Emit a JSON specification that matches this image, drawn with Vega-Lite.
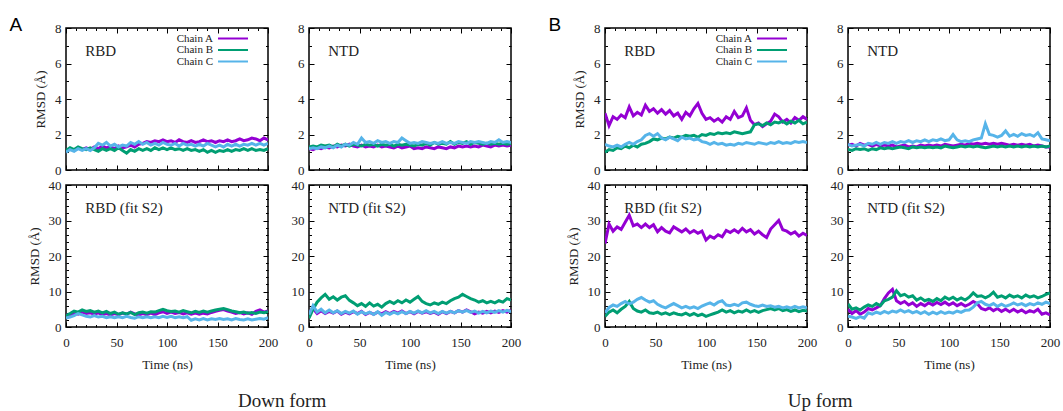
{
"$schema":"https://vega.github.io/schema/vega-lite/v6.json",
"background":"white",
"padding":{"left":8,"top":15,"right":3,"bottom":0},
"config":{
 "view":{"stroke":"#000","strokeWidth":1.5},
 "font":"Liberation Serif",
 "title":{"font":"Liberation Serif","fontWeight":"normal","color":"#222"},
 "axis":{"labelFont":"Liberation Serif","titleFont":"Liberation Serif","labelFontSize":13,"titleFontSize":13,"titleFontWeight":"normal"},
 "legend":{"labelFont":"Liberation Serif","labelFontSize":11},
 "style":{"guide-label":{"font":"Liberation Serif","fontSize":13},"guide-title":{"font":"Liberation Serif","fontSize":13,"fontWeight":"normal"}}
},
"datasets":{
"DR":[{"t":0,"A":1.05,"B":1.10,"C":1.00},{"t":4,"A":1.20,"B":1.25,"C":1.15},{"t":8,"A":1.10,"B":1.15,"C":1.05},{"t":12,"A":1.25,"B":1.30,"C":1.20},{"t":16,"A":1.15,"B":1.20,"C":1.10},{"t":20,"A":1.25,"B":1.15,"C":1.20},{"t":24,"A":1.15,"B":1.25,"C":1.10},{"t":28,"A":1.30,"B":1.15,"C":1.25},{"t":32,"A":1.20,"B":1.05,"C":1.50},{"t":36,"A":1.35,"B":1.20,"C":1.40},{"t":40,"A":1.25,"B":1.10,"C":1.55},{"t":44,"A":1.30,"B":1.20,"C":1.35},{"t":48,"A":1.20,"B":1.10,"C":1.45},{"t":52,"A":1.35,"B":1.25,"C":1.30},{"t":56,"A":1.25,"B":1.10,"C":1.40},{"t":60,"A":1.30,"B":0.95,"C":1.35},{"t":64,"A":1.40,"B":1.15,"C":1.55},{"t":68,"A":1.30,"B":1.05,"C":1.45},{"t":72,"A":1.45,"B":1.20,"C":1.60},{"t":76,"A":1.50,"B":1.10,"C":1.45},{"t":80,"A":1.60,"B":1.20,"C":1.55},{"t":84,"A":1.55,"B":1.10,"C":1.40},{"t":88,"A":1.65,"B":1.25,"C":1.50},{"t":92,"A":1.60,"B":1.15,"C":1.40},{"t":96,"A":1.70,"B":1.25,"C":1.55},{"t":100,"A":1.60,"B":1.15,"C":1.45},{"t":104,"A":1.65,"B":1.25,"C":1.40},{"t":108,"A":1.55,"B":1.15,"C":1.50},{"t":112,"A":1.70,"B":1.20,"C":1.35},{"t":116,"A":1.60,"B":1.10,"C":1.50},{"t":120,"A":1.55,"B":1.20,"C":1.40},{"t":124,"A":1.65,"B":1.10,"C":1.45},{"t":128,"A":1.55,"B":1.15,"C":1.35},{"t":132,"A":1.60,"B":1.05,"C":1.45},{"t":136,"A":1.70,"B":1.15,"C":1.35},{"t":140,"A":1.60,"B":1.00,"C":1.50},{"t":144,"A":1.65,"B":1.10,"C":1.40},{"t":148,"A":1.55,"B":1.00,"C":1.30},{"t":152,"A":1.65,"B":1.10,"C":1.40},{"t":156,"A":1.60,"B":1.05,"C":1.30},{"t":160,"A":1.70,"B":1.15,"C":1.45},{"t":164,"A":1.60,"B":1.05,"C":1.35},{"t":168,"A":1.65,"B":1.15,"C":1.45},{"t":172,"A":1.75,"B":1.10,"C":1.35},{"t":176,"A":1.65,"B":1.20,"C":1.45},{"t":180,"A":1.70,"B":1.10,"C":1.40},{"t":184,"A":1.80,"B":1.20,"C":1.50},{"t":188,"A":1.75,"B":1.10,"C":1.40},{"t":192,"A":1.65,"B":1.15,"C":1.50},{"t":196,"A":1.80,"B":1.10,"C":1.40},{"t":200,"A":1.70,"B":1.20,"C":1.50}],
"DN":[{"t":0,"A":1.20,"B":1.30,"C":1.20},{"t":4,"A":1.15,"B":1.35,"C":1.25},{"t":8,"A":1.25,"B":1.30,"C":1.20},{"t":12,"A":1.20,"B":1.40,"C":1.30},{"t":16,"A":1.30,"B":1.35,"C":1.25},{"t":20,"A":1.25,"B":1.40,"C":1.35},{"t":24,"A":1.35,"B":1.30,"C":1.25},{"t":28,"A":1.30,"B":1.45,"C":1.40},{"t":32,"A":1.40,"B":1.35,"C":1.30},{"t":36,"A":1.35,"B":1.45,"C":1.45},{"t":40,"A":1.45,"B":1.35,"C":1.40},{"t":44,"A":1.35,"B":1.45,"C":1.55},{"t":48,"A":1.30,"B":1.40,"C":1.45},{"t":52,"A":1.40,"B":1.35,"C":1.80},{"t":56,"A":1.30,"B":1.45,"C":1.55},{"t":60,"A":1.35,"B":1.40,"C":1.60},{"t":64,"A":1.30,"B":1.45,"C":1.50},{"t":68,"A":1.40,"B":1.35,"C":1.65},{"t":72,"A":1.30,"B":1.45,"C":1.55},{"t":76,"A":1.35,"B":1.40,"C":1.60},{"t":80,"A":1.30,"B":1.45,"C":1.50},{"t":84,"A":1.25,"B":1.35,"C":1.60},{"t":88,"A":1.35,"B":1.45,"C":1.55},{"t":92,"A":1.25,"B":1.40,"C":1.80},{"t":96,"A":1.30,"B":1.45,"C":1.65},{"t":100,"A":1.35,"B":1.40,"C":1.50},{"t":104,"A":1.20,"B":1.35,"C":1.55},{"t":108,"A":1.25,"B":1.45,"C":1.50},{"t":112,"A":1.20,"B":1.40,"C":1.60},{"t":116,"A":1.30,"B":1.50,"C":1.55},{"t":120,"A":1.25,"B":1.40,"C":1.50},{"t":124,"A":1.20,"B":1.55,"C":1.55},{"t":128,"A":1.30,"B":1.45,"C":1.50},{"t":132,"A":1.25,"B":1.50,"C":1.60},{"t":136,"A":1.20,"B":1.45,"C":1.50},{"t":140,"A":1.30,"B":1.60,"C":1.55},{"t":144,"A":1.25,"B":1.45,"C":1.50},{"t":148,"A":1.35,"B":1.55,"C":1.60},{"t":152,"A":1.30,"B":1.50,"C":1.55},{"t":156,"A":1.35,"B":1.60,"C":1.50},{"t":160,"A":1.30,"B":1.45,"C":1.60},{"t":164,"A":1.35,"B":1.55,"C":1.55},{"t":168,"A":1.30,"B":1.50,"C":1.60},{"t":172,"A":1.40,"B":1.45,"C":1.55},{"t":176,"A":1.35,"B":1.50,"C":1.50},{"t":180,"A":1.30,"B":1.45,"C":1.60},{"t":184,"A":1.40,"B":1.50,"C":1.55},{"t":188,"A":1.35,"B":1.45,"C":1.70},{"t":192,"A":1.40,"B":1.50,"C":1.55},{"t":196,"A":1.35,"B":1.45,"C":1.60},{"t":200,"A":1.40,"B":1.50,"C":1.55}],
"UR":[{"t":0,"A":3.20,"B":1.00,"C":1.45},{"t":4,"A":2.50,"B":1.15,"C":1.35},{"t":8,"A":3.00,"B":1.10,"C":1.30},{"t":12,"A":2.85,"B":1.25,"C":1.40},{"t":16,"A":3.10,"B":1.20,"C":1.30},{"t":20,"A":2.95,"B":1.35,"C":1.45},{"t":24,"A":3.55,"B":1.25,"C":1.55},{"t":28,"A":3.05,"B":1.40,"C":1.45},{"t":32,"A":3.25,"B":1.30,"C":1.60},{"t":36,"A":3.10,"B":1.45,"C":1.70},{"t":40,"A":3.65,"B":1.50,"C":1.95},{"t":44,"A":3.30,"B":1.60,"C":2.05},{"t":48,"A":3.45,"B":1.75,"C":1.90},{"t":52,"A":3.20,"B":1.70,"C":2.05},{"t":56,"A":3.40,"B":1.80,"C":1.80},{"t":60,"A":3.15,"B":1.75,"C":1.70},{"t":64,"A":3.35,"B":1.85,"C":1.85},{"t":68,"A":3.05,"B":1.80,"C":1.75},{"t":72,"A":3.20,"B":1.90,"C":1.65},{"t":76,"A":2.85,"B":1.85,"C":1.85},{"t":80,"A":3.25,"B":1.95,"C":1.75},{"t":84,"A":3.05,"B":1.90,"C":1.80},{"t":88,"A":3.45,"B":1.95,"C":1.70},{"t":92,"A":3.75,"B":1.85,"C":1.75},{"t":96,"A":3.20,"B":2.00,"C":1.60},{"t":100,"A":2.85,"B":1.95,"C":1.55},{"t":104,"A":2.95,"B":2.05,"C":1.45},{"t":108,"A":2.75,"B":2.00,"C":1.55},{"t":112,"A":2.90,"B":2.10,"C":1.45},{"t":116,"A":2.70,"B":2.05,"C":1.50},{"t":120,"A":3.00,"B":2.10,"C":1.40},{"t":124,"A":2.85,"B":2.05,"C":1.45},{"t":128,"A":3.30,"B":2.15,"C":1.40},{"t":132,"A":2.95,"B":2.10,"C":1.50},{"t":136,"A":3.05,"B":2.05,"C":1.45},{"t":140,"A":3.50,"B":2.10,"C":1.55},{"t":144,"A":2.80,"B":2.15,"C":1.50},{"t":148,"A":2.55,"B":2.55,"C":1.45},{"t":152,"A":2.65,"B":2.60,"C":1.55},{"t":156,"A":2.45,"B":2.50,"C":1.50},{"t":160,"A":2.60,"B":2.65,"C":1.45},{"t":164,"A":2.75,"B":2.55,"C":1.55},{"t":168,"A":3.15,"B":2.70,"C":1.50},{"t":172,"A":3.00,"B":2.65,"C":1.60},{"t":176,"A":2.70,"B":2.75,"C":1.50},{"t":180,"A":2.85,"B":2.60,"C":1.55},{"t":184,"A":2.65,"B":2.75,"C":1.50},{"t":188,"A":2.95,"B":2.65,"C":1.60},{"t":192,"A":2.80,"B":2.80,"C":1.55},{"t":196,"A":3.00,"B":2.60,"C":1.60},{"t":200,"A":2.85,"B":2.70,"C":1.55}],
"UN":[{"t":0,"A":1.40,"B":1.15,"C":1.45},{"t":4,"A":1.45,"B":1.10,"C":1.35},{"t":8,"A":1.35,"B":1.20,"C":1.40},{"t":12,"A":1.50,"B":1.15,"C":1.45},{"t":16,"A":1.40,"B":1.20,"C":1.35},{"t":20,"A":1.45,"B":1.10,"C":1.50},{"t":24,"A":1.35,"B":1.20,"C":1.45},{"t":28,"A":1.45,"B":1.15,"C":1.55},{"t":32,"A":1.35,"B":1.25,"C":1.45},{"t":36,"A":1.40,"B":1.20,"C":1.55},{"t":40,"A":1.35,"B":1.25,"C":1.50},{"t":44,"A":1.40,"B":1.20,"C":1.60},{"t":48,"A":1.30,"B":1.25,"C":1.50},{"t":52,"A":1.35,"B":1.30,"C":1.60},{"t":56,"A":1.40,"B":1.25,"C":1.55},{"t":60,"A":1.30,"B":1.20,"C":1.65},{"t":64,"A":1.35,"B":1.30,"C":1.55},{"t":68,"A":1.30,"B":1.25,"C":1.65},{"t":72,"A":1.40,"B":1.30,"C":1.60},{"t":76,"A":1.35,"B":1.25,"C":1.70},{"t":80,"A":1.40,"B":1.30,"C":1.60},{"t":84,"A":1.35,"B":1.25,"C":1.70},{"t":88,"A":1.40,"B":1.30,"C":1.65},{"t":92,"A":1.35,"B":1.25,"C":1.75},{"t":96,"A":1.45,"B":1.35,"C":1.65},{"t":100,"A":1.40,"B":1.30,"C":1.70},{"t":104,"A":1.35,"B":1.25,"C":2.00},{"t":108,"A":1.40,"B":1.30,"C":1.70},{"t":112,"A":1.45,"B":1.35,"C":1.60},{"t":116,"A":1.40,"B":1.30,"C":1.65},{"t":120,"A":1.50,"B":1.35,"C":1.60},{"t":124,"A":1.45,"B":1.30,"C":1.70},{"t":128,"A":1.50,"B":1.35,"C":1.75},{"t":132,"A":1.45,"B":1.30,"C":1.80},{"t":136,"A":1.50,"B":1.25,"C":2.60},{"t":140,"A":1.45,"B":1.30,"C":2.00},{"t":144,"A":1.50,"B":1.35,"C":1.95},{"t":148,"A":1.45,"B":1.30,"C":1.85},{"t":152,"A":1.50,"B":1.35,"C":1.95},{"t":156,"A":1.45,"B":1.30,"C":2.20},{"t":160,"A":1.40,"B":1.35,"C":1.90},{"t":164,"A":1.45,"B":1.30,"C":2.00},{"t":168,"A":1.40,"B":1.35,"C":1.90},{"t":172,"A":1.45,"B":1.30,"C":2.05},{"t":176,"A":1.40,"B":1.35,"C":1.95},{"t":180,"A":1.45,"B":1.30,"C":2.00},{"t":184,"A":1.35,"B":1.35,"C":1.90},{"t":188,"A":1.40,"B":1.30,"C":2.10},{"t":192,"A":1.35,"B":1.35,"C":1.75},{"t":196,"A":1.30,"B":1.30,"C":1.70},{"t":200,"A":1.30,"B":1.35,"C":1.65}],
"DRF":[{"t":0,"A":3.5,"B":3.2,"C":2.5},{"t":4,"A":3.0,"B":3.8,"C":2.8},{"t":8,"A":4.0,"B":4.5,"C":3.2},{"t":12,"A":3.6,"B":4.2,"C":3.8},{"t":16,"A":4.2,"B":4.8,"C":3.4},{"t":20,"A":3.8,"B":4.4,"C":3.0},{"t":24,"A":4.0,"B":4.6,"C":2.8},{"t":28,"A":3.6,"B":4.2,"C":3.2},{"t":32,"A":4.0,"B":4.5,"C":2.8},{"t":36,"A":3.5,"B":4.0,"C":3.0},{"t":40,"A":3.8,"B":4.4,"C":2.6},{"t":44,"A":3.4,"B":3.8,"C":2.9},{"t":48,"A":3.8,"B":4.2,"C":2.6},{"t":52,"A":3.5,"B":3.6,"C":2.9},{"t":56,"A":3.9,"B":4.0,"C":2.6},{"t":60,"A":3.6,"B":3.7,"C":3.0},{"t":64,"A":4.2,"B":4.1,"C":2.7},{"t":68,"A":3.7,"B":3.5,"C":2.5},{"t":72,"A":3.4,"B":4.0,"C":2.9},{"t":76,"A":3.8,"B":4.2,"C":2.6},{"t":80,"A":3.5,"B":3.9,"C":2.9},{"t":84,"A":3.9,"B":4.3,"C":2.6},{"t":88,"A":3.5,"B":4.2,"C":2.9},{"t":92,"A":4.0,"B":4.6,"C":2.6},{"t":96,"A":4.3,"B":5.0,"C":3.0},{"t":100,"A":3.8,"B":4.6,"C":2.7},{"t":104,"A":4.2,"B":4.4,"C":3.0},{"t":108,"A":3.8,"B":4.5,"C":2.6},{"t":112,"A":4.1,"B":4.2,"C":2.9},{"t":116,"A":3.7,"B":4.6,"C":2.6},{"t":120,"A":4.0,"B":4.3,"C":2.9},{"t":124,"A":3.6,"B":4.0,"C":1.9},{"t":128,"A":3.9,"B":4.4,"C":2.3},{"t":132,"A":3.6,"B":4.1,"C":2.0},{"t":136,"A":3.9,"B":4.5,"C":2.4},{"t":140,"A":3.7,"B":4.2,"C":2.0},{"t":144,"A":4.1,"B":4.5,"C":2.3},{"t":148,"A":4.4,"B":4.8,"C":2.1},{"t":152,"A":4.7,"B":5.0,"C":2.4},{"t":156,"A":4.9,"B":5.2,"C":2.1},{"t":160,"A":4.5,"B":4.9,"C":2.3},{"t":164,"A":4.2,"B":4.5,"C":2.0},{"t":168,"A":3.8,"B":4.3,"C":2.4},{"t":172,"A":4.1,"B":4.0,"C":2.1},{"t":176,"A":3.7,"B":4.2,"C":2.0},{"t":180,"A":4.0,"B":3.9,"C":2.3},{"t":184,"A":3.6,"B":4.1,"C":2.0},{"t":188,"A":4.4,"B":3.8,"C":2.2},{"t":192,"A":4.8,"B":4.2,"C":2.4},{"t":196,"A":4.2,"B":4.0,"C":2.2},{"t":200,"A":4.5,"B":4.3,"C":2.6}],
"DNF":[{"t":0,"A":4.0,"B":2.5,"C":3.5},{"t":4,"A":5.2,"B":5.0,"C":6.0},{"t":8,"A":3.8,"B":7.0,"C":4.2},{"t":12,"A":4.6,"B":8.2,"C":5.0},{"t":16,"A":3.8,"B":9.2,"C":4.0},{"t":20,"A":4.4,"B":7.8,"C":4.8},{"t":24,"A":3.9,"B":8.5,"C":4.0},{"t":28,"A":4.5,"B":7.6,"C":4.6},{"t":32,"A":3.6,"B":8.4,"C":3.8},{"t":36,"A":4.2,"B":8.8,"C":4.4},{"t":40,"A":3.7,"B":7.5,"C":3.9},{"t":44,"A":4.3,"B":6.8,"C":4.5},{"t":48,"A":3.8,"B":6.0,"C":3.6},{"t":52,"A":4.4,"B":6.6,"C":4.3},{"t":56,"A":3.5,"B":5.8,"C":3.7},{"t":60,"A":4.1,"B":6.8,"C":4.2},{"t":64,"A":3.6,"B":5.9,"C":3.5},{"t":68,"A":4.2,"B":6.4,"C":4.3},{"t":72,"A":3.7,"B":5.6,"C":3.3},{"t":76,"A":4.3,"B":6.6,"C":4.1},{"t":80,"A":3.8,"B":7.2,"C":3.6},{"t":84,"A":4.4,"B":6.6,"C":4.2},{"t":88,"A":3.9,"B":7.4,"C":3.7},{"t":92,"A":4.5,"B":6.8,"C":4.3},{"t":96,"A":3.8,"B":7.6,"C":3.8},{"t":100,"A":4.3,"B":7.0,"C":4.4},{"t":104,"A":3.7,"B":7.8,"C":3.9},{"t":108,"A":4.4,"B":8.6,"C":4.5},{"t":112,"A":3.9,"B":7.2,"C":4.0},{"t":116,"A":4.3,"B":6.6,"C":4.6},{"t":120,"A":3.8,"B":6.2,"C":4.0},{"t":124,"A":4.2,"B":6.8,"C":4.4},{"t":128,"A":3.6,"B":6.4,"C":3.8},{"t":132,"A":4.3,"B":7.0,"C":4.4},{"t":136,"A":3.8,"B":6.6,"C":3.9},{"t":140,"A":4.4,"B":7.4,"C":4.4},{"t":144,"A":4.0,"B":8.0,"C":4.0},{"t":148,"A":4.6,"B":8.4,"C":4.6},{"t":152,"A":4.2,"B":9.2,"C":4.2},{"t":156,"A":4.8,"B":8.6,"C":4.7},{"t":160,"A":4.3,"B":8.0,"C":4.1},{"t":164,"A":3.7,"B":7.6,"C":4.5},{"t":168,"A":4.2,"B":7.0,"C":3.9},{"t":172,"A":3.9,"B":7.4,"C":4.4},{"t":176,"A":4.4,"B":6.8,"C":4.0},{"t":180,"A":4.0,"B":7.2,"C":4.5},{"t":184,"A":4.5,"B":6.8,"C":4.1},{"t":188,"A":4.1,"B":7.4,"C":4.6},{"t":192,"A":4.6,"B":7.0,"C":4.2},{"t":196,"A":4.2,"B":8.0,"C":4.7},{"t":200,"A":4.7,"B":7.6,"C":4.3}],
"URF":[{"t":0,"A":23.5,"B":3.0,"C":4.0},{"t":4,"A":29.0,"B":4.2,"C":5.5},{"t":8,"A":27.0,"B":4.8,"C":6.2},{"t":12,"A":28.2,"B":4.0,"C":5.8},{"t":16,"A":27.5,"B":5.0,"C":6.6},{"t":20,"A":29.5,"B":5.8,"C":7.2},{"t":24,"A":31.5,"B":7.2,"C":6.5},{"t":28,"A":28.5,"B":5.2,"C":7.0},{"t":32,"A":29.0,"B":4.5,"C":7.8},{"t":36,"A":28.0,"B":4.2,"C":8.3},{"t":40,"A":29.0,"B":4.8,"C":7.6},{"t":44,"A":28.0,"B":4.0,"C":7.0},{"t":48,"A":28.8,"B":3.8,"C":7.4},{"t":52,"A":26.8,"B":4.2,"C":6.4},{"t":56,"A":28.0,"B":3.6,"C":5.8},{"t":60,"A":27.0,"B":4.0,"C":5.4},{"t":64,"A":26.5,"B":3.5,"C":6.0},{"t":68,"A":28.2,"B":4.0,"C":6.6},{"t":72,"A":27.5,"B":3.6,"C":6.0},{"t":76,"A":26.8,"B":3.4,"C":5.4},{"t":80,"A":27.6,"B":3.9,"C":5.8},{"t":84,"A":26.5,"B":3.3,"C":5.3},{"t":88,"A":27.2,"B":3.8,"C":5.7},{"t":92,"A":26.4,"B":3.2,"C":5.2},{"t":96,"A":27.0,"B":3.6,"C":5.9},{"t":100,"A":24.5,"B":3.0,"C":6.4},{"t":104,"A":25.6,"B":3.4,"C":6.8},{"t":108,"A":25.0,"B":3.8,"C":6.2},{"t":112,"A":26.0,"B":4.2,"C":7.0},{"t":116,"A":25.4,"B":4.8,"C":7.4},{"t":120,"A":27.2,"B":4.2,"C":6.2},{"t":124,"A":26.6,"B":4.6,"C":6.0},{"t":128,"A":27.4,"B":4.0,"C":6.4},{"t":132,"A":26.6,"B":4.5,"C":6.0},{"t":136,"A":27.8,"B":4.2,"C":6.8},{"t":140,"A":26.8,"B":4.8,"C":7.0},{"t":144,"A":27.4,"B":4.2,"C":6.4},{"t":148,"A":26.2,"B":4.6,"C":6.0},{"t":152,"A":27.0,"B":4.1,"C":5.8},{"t":156,"A":26.0,"B":4.6,"C":6.2},{"t":160,"A":25.2,"B":4.9,"C":5.8},{"t":164,"A":27.6,"B":5.2,"C":6.0},{"t":168,"A":28.8,"B":4.8,"C":5.6},{"t":172,"A":30.0,"B":5.2,"C":5.8},{"t":176,"A":27.4,"B":4.6,"C":5.4},{"t":180,"A":27.0,"B":4.9,"C":5.7},{"t":184,"A":26.2,"B":4.4,"C":5.3},{"t":188,"A":26.8,"B":4.8,"C":5.8},{"t":192,"A":25.6,"B":4.3,"C":5.4},{"t":196,"A":26.4,"B":4.7,"C":5.7},{"t":200,"A":25.8,"B":4.5,"C":5.4}],
"UNF":[{"t":0,"A":5.0,"B":6.5,"C":3.0},{"t":4,"A":3.8,"B":5.0,"C":2.8},{"t":8,"A":4.6,"B":5.4,"C":2.4},{"t":12,"A":3.6,"B":4.8,"C":2.9},{"t":16,"A":4.2,"B":5.6,"C":2.5},{"t":20,"A":5.2,"B":6.2,"C":4.0},{"t":24,"A":4.8,"B":5.8,"C":3.6},{"t":28,"A":5.4,"B":6.6,"C":4.2},{"t":32,"A":6.0,"B":6.0,"C":3.8},{"t":36,"A":8.0,"B":7.4,"C":4.4},{"t":40,"A":9.6,"B":7.8,"C":3.9},{"t":44,"A":10.6,"B":8.4,"C":4.5},{"t":48,"A":7.4,"B":10.2,"C":4.2},{"t":52,"A":6.6,"B":8.8,"C":4.8},{"t":56,"A":7.2,"B":9.2,"C":4.2},{"t":60,"A":6.2,"B":8.4,"C":4.6},{"t":64,"A":6.8,"B":8.8,"C":4.0},{"t":68,"A":5.8,"B":7.6,"C":4.4},{"t":72,"A":6.6,"B":8.2,"C":3.8},{"t":76,"A":6.0,"B":7.4,"C":4.3},{"t":80,"A":6.8,"B":7.8,"C":3.6},{"t":84,"A":6.2,"B":7.2,"C":4.2},{"t":88,"A":6.9,"B":8.0,"C":3.7},{"t":92,"A":6.3,"B":7.4,"C":4.3},{"t":96,"A":7.0,"B":8.4,"C":3.8},{"t":100,"A":6.2,"B":7.8,"C":4.2},{"t":104,"A":6.8,"B":8.4,"C":3.9},{"t":108,"A":6.0,"B":7.6,"C":4.5},{"t":112,"A":6.6,"B":8.2,"C":4.1},{"t":116,"A":5.9,"B":7.6,"C":4.7},{"t":120,"A":6.4,"B":8.4,"C":4.8},{"t":124,"A":7.2,"B":9.6,"C":5.6},{"t":128,"A":6.6,"B":8.6,"C":6.8},{"t":132,"A":5.2,"B":8.8,"C":7.2},{"t":136,"A":4.8,"B":8.2,"C":6.4},{"t":140,"A":5.4,"B":8.8,"C":6.0},{"t":144,"A":4.6,"B":9.8,"C":6.6},{"t":148,"A":5.2,"B":8.4,"C":5.8},{"t":152,"A":4.4,"B":8.8,"C":6.4},{"t":156,"A":5.0,"B":8.2,"C":5.8},{"t":160,"A":4.3,"B":9.0,"C":6.2},{"t":164,"A":5.0,"B":8.4,"C":6.8},{"t":168,"A":4.2,"B":8.8,"C":6.2},{"t":172,"A":4.8,"B":8.2,"C":6.6},{"t":176,"A":4.0,"B":9.0,"C":6.0},{"t":180,"A":4.6,"B":8.4,"C":6.6},{"t":184,"A":4.2,"B":8.8,"C":6.2},{"t":188,"A":5.0,"B":8.2,"C":6.8},{"t":192,"A":3.6,"B":8.6,"C":6.4},{"t":196,"A":4.0,"B":9.2,"C":7.0},{"t":200,"A":3.4,"B":9.6,"C":6.6}]
},
"hconcat":[
{"title":{"text":"Down form","orient":"bottom","anchor":"middle","fontSize":19,"offset":20,"dx":17},
 "columns":2,"bounds":"flush","spacing":{"column":41,"row":15},
 "resolve":{"legend":{"color":"independent"}},
 "concat":[
  {"width":202,"height":142,"view":{"stroke":"#000","strokeWidth":1.5},
   "title":{"text":"A","anchor":"start","font":"Liberation Sans","fontSize":19,"color":"#000","dx":-25,"offset":-13},
   "layer":[
    {"data":{"name":"DR"},"transform":[{"fold":["A","B","C"],"as":["chain","v"]}],
     "mark":{"type":"line","strokeWidth":3,"clip":true},
     "encoding":{
      "x":{"field":"t","type":"quantitative","scale":{"domain":[0,200],"nice":false},"axis":{"orient":"bottom","values":[0,10,20,30,40,50,60,70,80,90,100,110,120,130,140,150,160,170,180,190,200],"labels":false,"title":null,"domain":false,"grid":false,"tickColor":"#000","tickSize":{"condition":{"test":"datum.value % 50 === 0","value":-5},"value":-2.5}}},
      "y":{"field":"v","type":"quantitative","scale":{"domain":[0,8],"nice":false},"axis":{"orient":"left","values":[0,1,2,3,4,5,6,7,8],"labelExpr":"datum.value % 2 === 0 ? datum.label : ''","labelPadding":10,"labelFont":"Liberation Serif","labelFontSize":13,"labelColor":"#222","labelOverlap":false,"labelFlush":false,"title":"RMSD (Å)","titleFont":"Liberation Serif","titleFontSize":13,"titleFontWeight":"normal","titleColor":"#222","titlePadding":7,"domain":false,"grid":false,"tickColor":"#000","tickSize":{"condition":{"test":"datum.value % 2 === 0","value":-5},"value":-2.5}}},
      "color":{"field":"chain","type":"nominal","scale":{"domain":["A","B","C"],"range":["#9400D3","#009E73","#56B4E9"]},"legend":{"orient":"none","legendX":161.5,"legendY":5,"direction":"vertical","title":null,"symbolType":"M-3.33,0H3.33","symbolSize":81,"symbolStrokeWidth":2,"labelAlign":"right","labelOffset":-25.5,"labelFont":"Liberation Serif","labelFontSize":11,"labelColor":"#222","labelExpr":"'Chain ' + datum.label","rowPadding":-0.5,"padding":0}}
     }},
    {"data":{"values":[{"label":"RBD"}]},
     "mark":{"type":"text","align":"left","baseline":"alphabetic","fontSize":15,"font":"Liberation Serif","color":"#222"},
     "encoding":{
      "x":{"datum":19,"type":"quantitative","axis":{"orient":"top","values":[0,10,20,30,40,50,60,70,80,90,100,110,120,130,140,150,160,170,180,190,200],"labels":false,"title":null,"domain":false,"grid":false,"tickColor":"#000","tickSize":{"condition":{"test":"datum.value % 50 === 0","value":-5},"value":-2.5}}},
      "y":{"datum":6.4,"type":"quantitative","axis":{"orient":"right","values":[0,1,2,3,4,5,6,7,8],"labels":false,"title":null,"domain":false,"grid":false,"tickColor":"#000","tickSize":{"condition":{"test":"datum.value % 2 === 0","value":-5},"value":-2.5}}},
      "text":{"field":"label"}}}
   ],
   "resolve":{"axis":{"x":"independent","y":"independent"}}
  },
  {"width":202,"height":142,"view":{"stroke":"#000","strokeWidth":1.5},
   "layer":[
    {"data":{"name":"DN"},"transform":[{"fold":["A","B","C"],"as":["chain","v"]}],
     "mark":{"type":"line","strokeWidth":3,"clip":true},
     "encoding":{
      "x":{"field":"t","type":"quantitative","scale":{"domain":[0,200],"nice":false},"axis":{"orient":"bottom","values":[0,10,20,30,40,50,60,70,80,90,100,110,120,130,140,150,160,170,180,190,200],"labels":false,"title":null,"domain":false,"grid":false,"tickColor":"#000","tickSize":{"condition":{"test":"datum.value % 50 === 0","value":-5},"value":-2.5}}},
      "y":{"field":"v","type":"quantitative","scale":{"domain":[0,8],"nice":false},"axis":{"orient":"left","values":[0,1,2,3,4,5,6,7,8],"labelExpr":"datum.value % 2 === 0 ? datum.label : ''","labelPadding":10,"labelFont":"Liberation Serif","labelFontSize":13,"labelColor":"#222","labelOverlap":false,"labelFlush":false,"title":null,"domain":false,"grid":false,"tickColor":"#000","tickSize":{"condition":{"test":"datum.value % 2 === 0","value":-5},"value":-2.5}}},
      "color":{"field":"chain","type":"nominal","scale":{"domain":["A","B","C"],"range":["#9400D3","#009E73","#56B4E9"]},"legend":null}
     }},
    {"data":{"values":[{"label":"NTD"}]},
     "mark":{"type":"text","align":"left","baseline":"alphabetic","fontSize":15,"font":"Liberation Serif","color":"#222"},
     "encoding":{
      "x":{"datum":19,"type":"quantitative","axis":{"orient":"top","values":[0,10,20,30,40,50,60,70,80,90,100,110,120,130,140,150,160,170,180,190,200],"labels":false,"title":null,"domain":false,"grid":false,"tickColor":"#000","tickSize":{"condition":{"test":"datum.value % 50 === 0","value":-5},"value":-2.5}}},
      "y":{"datum":6.4,"type":"quantitative","axis":{"orient":"right","values":[0,1,2,3,4,5,6,7,8],"labels":false,"title":null,"domain":false,"grid":false,"tickColor":"#000","tickSize":{"condition":{"test":"datum.value % 2 === 0","value":-5},"value":-2.5}}},
      "text":{"field":"label"}}}
   ],
   "resolve":{"axis":{"x":"independent","y":"independent"}}
  },
  {"width":202,"height":142,"view":{"stroke":"#000","strokeWidth":1.5},
   "layer":[
    {"data":{"name":"DRF"},"transform":[{"fold":["A","B","C"],"as":["chain","v"]}],
     "mark":{"type":"line","strokeWidth":3,"clip":true},
     "encoding":{
      "x":{"field":"t","type":"quantitative","scale":{"domain":[0,200],"nice":false},"axis":{"orient":"bottom","values":[0,10,20,30,40,50,60,70,80,90,100,110,120,130,140,150,160,170,180,190,200],"labelExpr":"datum.value % 50 === 0 ? datum.label : ''","labelPadding":14,"labelFont":"Liberation Serif","labelFontSize":13,"labelColor":"#222","labelOverlap":false,"labelFlush":false,"title":"Time (ns)","titleFont":"Liberation Serif","titleFontSize":13,"titleFontWeight":"normal","titleColor":"#222","titlePadding":7,"domain":false,"grid":false,"tickColor":"#000","tickSize":{"condition":{"test":"datum.value % 50 === 0","value":-5},"value":-2.5}}},
      "y":{"field":"v","type":"quantitative","scale":{"domain":[0,40],"nice":false},"axis":{"orient":"left","values":[0,2,4,6,8,10,12,14,16,18,20,22,24,26,28,30,32,34,36,38,40],"labelExpr":"datum.value % 10 === 0 ? datum.label : ''","labelPadding":10,"labelFont":"Liberation Serif","labelFontSize":13,"labelColor":"#222","labelOverlap":false,"labelFlush":false,"title":"RMSD (Å)","titleFont":"Liberation Serif","titleFontSize":13,"titleFontWeight":"normal","titleColor":"#222","titlePadding":7,"domain":false,"grid":false,"tickColor":"#000","tickSize":{"condition":{"test":"datum.value % 10 === 0","value":-5},"value":-2.5}}},
      "color":{"field":"chain","type":"nominal","scale":{"domain":["A","B","C"],"range":["#9400D3","#009E73","#56B4E9"]},"legend":null}
     }},
    {"data":{"values":[{"label":"RBD (fit S2)"}]},
     "mark":{"type":"text","align":"left","baseline":"alphabetic","fontSize":15,"font":"Liberation Serif","color":"#222"},
     "encoding":{
      "x":{"datum":19,"type":"quantitative","axis":{"orient":"top","values":[0,10,20,30,40,50,60,70,80,90,100,110,120,130,140,150,160,170,180,190,200],"labels":false,"title":null,"domain":false,"grid":false,"tickColor":"#000","tickSize":{"condition":{"test":"datum.value % 50 === 0","value":-5},"value":-2.5}}},
      "y":{"datum":32,"type":"quantitative","axis":{"orient":"right","values":[0,2,4,6,8,10,12,14,16,18,20,22,24,26,28,30,32,34,36,38,40],"labels":false,"title":null,"domain":false,"grid":false,"tickColor":"#000","tickSize":{"condition":{"test":"datum.value % 10 === 0","value":-5},"value":-2.5}}},
      "text":{"field":"label"}}}
   ],
   "resolve":{"axis":{"x":"independent","y":"independent"}}
  },
  {"width":202,"height":142,"view":{"stroke":"#000","strokeWidth":1.5},
   "layer":[
    {"data":{"name":"DNF"},"transform":[{"fold":["A","B","C"],"as":["chain","v"]}],
     "mark":{"type":"line","strokeWidth":3,"clip":true},
     "encoding":{
      "x":{"field":"t","type":"quantitative","scale":{"domain":[0,200],"nice":false},"axis":{"orient":"bottom","values":[0,10,20,30,40,50,60,70,80,90,100,110,120,130,140,150,160,170,180,190,200],"labelExpr":"datum.value % 50 === 0 ? datum.label : ''","labelPadding":14,"labelFont":"Liberation Serif","labelFontSize":13,"labelColor":"#222","labelOverlap":false,"labelFlush":false,"title":"Time (ns)","titleFont":"Liberation Serif","titleFontSize":13,"titleFontWeight":"normal","titleColor":"#222","titlePadding":7,"domain":false,"grid":false,"tickColor":"#000","tickSize":{"condition":{"test":"datum.value % 50 === 0","value":-5},"value":-2.5}}},
      "y":{"field":"v","type":"quantitative","scale":{"domain":[0,40],"nice":false},"axis":{"orient":"left","values":[0,2,4,6,8,10,12,14,16,18,20,22,24,26,28,30,32,34,36,38,40],"labelExpr":"datum.value % 10 === 0 ? datum.label : ''","labelPadding":10,"labelFont":"Liberation Serif","labelFontSize":13,"labelColor":"#222","labelOverlap":false,"labelFlush":false,"title":null,"domain":false,"grid":false,"tickColor":"#000","tickSize":{"condition":{"test":"datum.value % 10 === 0","value":-5},"value":-2.5}}},
      "color":{"field":"chain","type":"nominal","scale":{"domain":["A","B","C"],"range":["#9400D3","#009E73","#56B4E9"]},"legend":null}
     }},
    {"data":{"values":[{"label":"NTD (fit S2)"}]},
     "mark":{"type":"text","align":"left","baseline":"alphabetic","fontSize":15,"font":"Liberation Serif","color":"#222"},
     "encoding":{
      "x":{"datum":19,"type":"quantitative","axis":{"orient":"top","values":[0,10,20,30,40,50,60,70,80,90,100,110,120,130,140,150,160,170,180,190,200],"labels":false,"title":null,"domain":false,"grid":false,"tickColor":"#000","tickSize":{"condition":{"test":"datum.value % 50 === 0","value":-5},"value":-2.5}}},
      "y":{"datum":32,"type":"quantitative","axis":{"orient":"right","values":[0,2,4,6,8,10,12,14,16,18,20,22,24,26,28,30,32,34,36,38,40],"labels":false,"title":null,"domain":false,"grid":false,"tickColor":"#000","tickSize":{"condition":{"test":"datum.value % 10 === 0","value":-5},"value":-2.5}}},
      "text":{"field":"label"}}}
   ],
   "resolve":{"axis":{"x":"independent","y":"independent"}}
  }
 ]
},
{"title":{"text":"Up form","orient":"bottom","anchor":"middle","fontSize":19,"offset":20,"dx":16},
 "columns":2,"bounds":"flush","spacing":{"column":41,"row":15},
 "resolve":{"legend":{"color":"independent"}},
 "concat":[
  {"width":202,"height":142,"view":{"stroke":"#000","strokeWidth":1.5},
   "title":{"text":"B","anchor":"start","font":"Liberation Sans","fontSize":19,"color":"#000","dx":-25,"offset":-13},
   "layer":[
    {"data":{"name":"UR"},"transform":[{"fold":["A","B","C"],"as":["chain","v"]}],
     "mark":{"type":"line","strokeWidth":3,"clip":true},
     "encoding":{
      "x":{"field":"t","type":"quantitative","scale":{"domain":[0,200],"nice":false},"axis":{"orient":"bottom","values":[0,10,20,30,40,50,60,70,80,90,100,110,120,130,140,150,160,170,180,190,200],"labels":false,"title":null,"domain":false,"grid":false,"tickColor":"#000","tickSize":{"condition":{"test":"datum.value % 50 === 0","value":-5},"value":-2.5}}},
      "y":{"field":"v","type":"quantitative","scale":{"domain":[0,8],"nice":false},"axis":{"orient":"left","values":[0,1,2,3,4,5,6,7,8],"labelExpr":"datum.value % 2 === 0 ? datum.label : ''","labelPadding":10,"labelFont":"Liberation Serif","labelFontSize":13,"labelColor":"#222","labelOverlap":false,"labelFlush":false,"title":"RMSD (Å)","titleFont":"Liberation Serif","titleFontSize":13,"titleFontWeight":"normal","titleColor":"#222","titlePadding":7,"domain":false,"grid":false,"tickColor":"#000","tickSize":{"condition":{"test":"datum.value % 2 === 0","value":-5},"value":-2.5}}},
      "color":{"field":"chain","type":"nominal","scale":{"domain":["A","B","C"],"range":["#9400D3","#009E73","#56B4E9"]},"legend":{"orient":"none","legendX":161.5,"legendY":5,"direction":"vertical","title":null,"symbolType":"M-3.33,0H3.33","symbolSize":81,"symbolStrokeWidth":2,"labelAlign":"right","labelOffset":-25.5,"labelFont":"Liberation Serif","labelFontSize":11,"labelColor":"#222","labelExpr":"'Chain ' + datum.label","rowPadding":-0.5,"padding":0}}
     }},
    {"data":{"values":[{"label":"RBD"}]},
     "mark":{"type":"text","align":"left","baseline":"alphabetic","fontSize":15,"font":"Liberation Serif","color":"#222"},
     "encoding":{
      "x":{"datum":19,"type":"quantitative","axis":{"orient":"top","values":[0,10,20,30,40,50,60,70,80,90,100,110,120,130,140,150,160,170,180,190,200],"labels":false,"title":null,"domain":false,"grid":false,"tickColor":"#000","tickSize":{"condition":{"test":"datum.value % 50 === 0","value":-5},"value":-2.5}}},
      "y":{"datum":6.4,"type":"quantitative","axis":{"orient":"right","values":[0,1,2,3,4,5,6,7,8],"labels":false,"title":null,"domain":false,"grid":false,"tickColor":"#000","tickSize":{"condition":{"test":"datum.value % 2 === 0","value":-5},"value":-2.5}}},
      "text":{"field":"label"}}}
   ],
   "resolve":{"axis":{"x":"independent","y":"independent"}}
  },
  {"width":202,"height":142,"view":{"stroke":"#000","strokeWidth":1.5},
   "layer":[
    {"data":{"name":"UN"},"transform":[{"fold":["A","B","C"],"as":["chain","v"]}],
     "mark":{"type":"line","strokeWidth":3,"clip":true},
     "encoding":{
      "x":{"field":"t","type":"quantitative","scale":{"domain":[0,200],"nice":false},"axis":{"orient":"bottom","values":[0,10,20,30,40,50,60,70,80,90,100,110,120,130,140,150,160,170,180,190,200],"labels":false,"title":null,"domain":false,"grid":false,"tickColor":"#000","tickSize":{"condition":{"test":"datum.value % 50 === 0","value":-5},"value":-2.5}}},
      "y":{"field":"v","type":"quantitative","scale":{"domain":[0,8],"nice":false},"axis":{"orient":"left","values":[0,1,2,3,4,5,6,7,8],"labelExpr":"datum.value % 2 === 0 ? datum.label : ''","labelPadding":10,"labelFont":"Liberation Serif","labelFontSize":13,"labelColor":"#222","labelOverlap":false,"labelFlush":false,"title":null,"domain":false,"grid":false,"tickColor":"#000","tickSize":{"condition":{"test":"datum.value % 2 === 0","value":-5},"value":-2.5}}},
      "color":{"field":"chain","type":"nominal","scale":{"domain":["A","B","C"],"range":["#9400D3","#009E73","#56B4E9"]},"legend":null}
     }},
    {"data":{"values":[{"label":"NTD"}]},
     "mark":{"type":"text","align":"left","baseline":"alphabetic","fontSize":15,"font":"Liberation Serif","color":"#222"},
     "encoding":{
      "x":{"datum":19,"type":"quantitative","axis":{"orient":"top","values":[0,10,20,30,40,50,60,70,80,90,100,110,120,130,140,150,160,170,180,190,200],"labels":false,"title":null,"domain":false,"grid":false,"tickColor":"#000","tickSize":{"condition":{"test":"datum.value % 50 === 0","value":-5},"value":-2.5}}},
      "y":{"datum":6.4,"type":"quantitative","axis":{"orient":"right","values":[0,1,2,3,4,5,6,7,8],"labels":false,"title":null,"domain":false,"grid":false,"tickColor":"#000","tickSize":{"condition":{"test":"datum.value % 2 === 0","value":-5},"value":-2.5}}},
      "text":{"field":"label"}}}
   ],
   "resolve":{"axis":{"x":"independent","y":"independent"}}
  },
  {"width":202,"height":142,"view":{"stroke":"#000","strokeWidth":1.5},
   "layer":[
    {"data":{"name":"URF"},"transform":[{"fold":["A","B","C"],"as":["chain","v"]}],
     "mark":{"type":"line","strokeWidth":3,"clip":true},
     "encoding":{
      "x":{"field":"t","type":"quantitative","scale":{"domain":[0,200],"nice":false},"axis":{"orient":"bottom","values":[0,10,20,30,40,50,60,70,80,90,100,110,120,130,140,150,160,170,180,190,200],"labelExpr":"datum.value % 50 === 0 ? datum.label : ''","labelPadding":14,"labelFont":"Liberation Serif","labelFontSize":13,"labelColor":"#222","labelOverlap":false,"labelFlush":false,"title":"Time (ns)","titleFont":"Liberation Serif","titleFontSize":13,"titleFontWeight":"normal","titleColor":"#222","titlePadding":7,"domain":false,"grid":false,"tickColor":"#000","tickSize":{"condition":{"test":"datum.value % 50 === 0","value":-5},"value":-2.5}}},
      "y":{"field":"v","type":"quantitative","scale":{"domain":[0,40],"nice":false},"axis":{"orient":"left","values":[0,2,4,6,8,10,12,14,16,18,20,22,24,26,28,30,32,34,36,38,40],"labelExpr":"datum.value % 10 === 0 ? datum.label : ''","labelPadding":10,"labelFont":"Liberation Serif","labelFontSize":13,"labelColor":"#222","labelOverlap":false,"labelFlush":false,"title":"RMSD (Å)","titleFont":"Liberation Serif","titleFontSize":13,"titleFontWeight":"normal","titleColor":"#222","titlePadding":7,"domain":false,"grid":false,"tickColor":"#000","tickSize":{"condition":{"test":"datum.value % 10 === 0","value":-5},"value":-2.5}}},
      "color":{"field":"chain","type":"nominal","scale":{"domain":["A","B","C"],"range":["#9400D3","#009E73","#56B4E9"]},"legend":null}
     }},
    {"data":{"values":[{"label":"RBD (fit S2)"}]},
     "mark":{"type":"text","align":"left","baseline":"alphabetic","fontSize":15,"font":"Liberation Serif","color":"#222"},
     "encoding":{
      "x":{"datum":19,"type":"quantitative","axis":{"orient":"top","values":[0,10,20,30,40,50,60,70,80,90,100,110,120,130,140,150,160,170,180,190,200],"labels":false,"title":null,"domain":false,"grid":false,"tickColor":"#000","tickSize":{"condition":{"test":"datum.value % 50 === 0","value":-5},"value":-2.5}}},
      "y":{"datum":32,"type":"quantitative","axis":{"orient":"right","values":[0,2,4,6,8,10,12,14,16,18,20,22,24,26,28,30,32,34,36,38,40],"labels":false,"title":null,"domain":false,"grid":false,"tickColor":"#000","tickSize":{"condition":{"test":"datum.value % 10 === 0","value":-5},"value":-2.5}}},
      "text":{"field":"label"}}}
   ],
   "resolve":{"axis":{"x":"independent","y":"independent"}}
  },
  {"width":202,"height":142,"view":{"stroke":"#000","strokeWidth":1.5},
   "layer":[
    {"data":{"name":"UNF"},"transform":[{"fold":["A","B","C"],"as":["chain","v"]}],
     "mark":{"type":"line","strokeWidth":3,"clip":true},
     "encoding":{
      "x":{"field":"t","type":"quantitative","scale":{"domain":[0,200],"nice":false},"axis":{"orient":"bottom","values":[0,10,20,30,40,50,60,70,80,90,100,110,120,130,140,150,160,170,180,190,200],"labelExpr":"datum.value % 50 === 0 ? datum.label : ''","labelPadding":14,"labelFont":"Liberation Serif","labelFontSize":13,"labelColor":"#222","labelOverlap":false,"labelFlush":false,"title":"Time (ns)","titleFont":"Liberation Serif","titleFontSize":13,"titleFontWeight":"normal","titleColor":"#222","titlePadding":7,"domain":false,"grid":false,"tickColor":"#000","tickSize":{"condition":{"test":"datum.value % 50 === 0","value":-5},"value":-2.5}}},
      "y":{"field":"v","type":"quantitative","scale":{"domain":[0,40],"nice":false},"axis":{"orient":"left","values":[0,2,4,6,8,10,12,14,16,18,20,22,24,26,28,30,32,34,36,38,40],"labelExpr":"datum.value % 10 === 0 ? datum.label : ''","labelPadding":10,"labelFont":"Liberation Serif","labelFontSize":13,"labelColor":"#222","labelOverlap":false,"labelFlush":false,"title":null,"domain":false,"grid":false,"tickColor":"#000","tickSize":{"condition":{"test":"datum.value % 10 === 0","value":-5},"value":-2.5}}},
      "color":{"field":"chain","type":"nominal","scale":{"domain":["A","B","C"],"range":["#9400D3","#009E73","#56B4E9"]},"legend":null}
     }},
    {"data":{"values":[{"label":"NTD (fit S2)"}]},
     "mark":{"type":"text","align":"left","baseline":"alphabetic","fontSize":15,"font":"Liberation Serif","color":"#222"},
     "encoding":{
      "x":{"datum":19,"type":"quantitative","axis":{"orient":"top","values":[0,10,20,30,40,50,60,70,80,90,100,110,120,130,140,150,160,170,180,190,200],"labels":false,"title":null,"domain":false,"grid":false,"tickColor":"#000","tickSize":{"condition":{"test":"datum.value % 50 === 0","value":-5},"value":-2.5}}},
      "y":{"datum":32,"type":"quantitative","axis":{"orient":"right","values":[0,2,4,6,8,10,12,14,16,18,20,22,24,26,28,30,32,34,36,38,40],"labels":false,"title":null,"domain":false,"grid":false,"tickColor":"#000","tickSize":{"condition":{"test":"datum.value % 10 === 0","value":-5},"value":-2.5}}},
      "text":{"field":"label"}}}
   ],
   "resolve":{"axis":{"x":"independent","y":"independent"}}
  }
 ]
}
],
"spacing":25,
"resolve":{"legend":{"color":"independent"}}
}
